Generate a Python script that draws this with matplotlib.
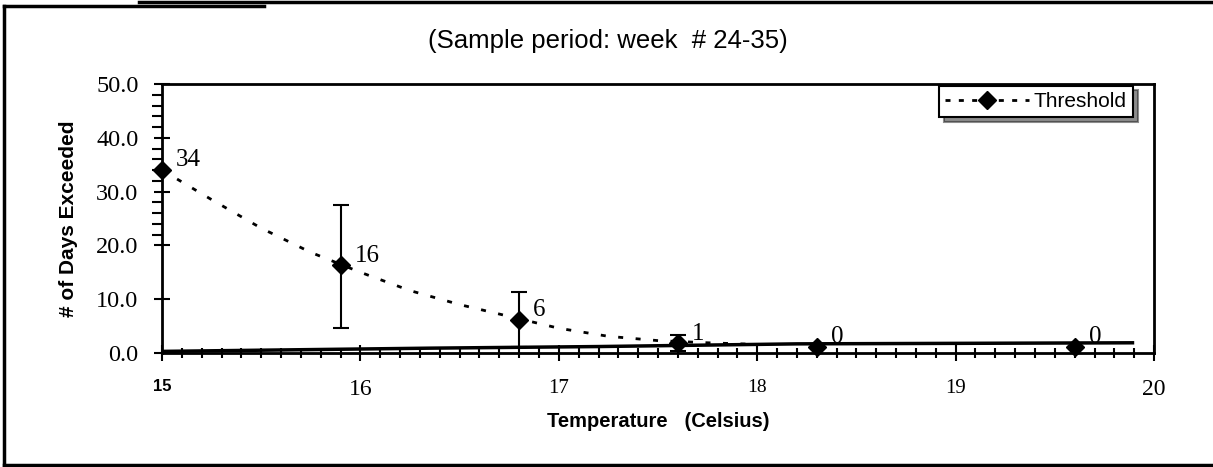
import matplotlib
matplotlib.use('Agg')
import matplotlib.pyplot as plt
import numpy as np
from matplotlib.lines import Line2D
from matplotlib.ticker import MultipleLocator, FixedLocator

# Data
temp = [15.0, 15.9, 16.8, 17.6, 18.3, 19.6]
days = [34.0, 16.3, 6.1, 1.8, 1.2, 1.2]
day_labels = ['34', '16', '6', '1', '0', '0']

# error bars (only three points have them)
bar_temp = [15.9, 16.8, 17.6]
bar_mid = [16.3, 6.1, 1.8]
bar_low = [4.6, 1.2, 0.4]
bar_high = [27.5, 11.3, 3.4]

# dotted trend curve
trend_x = [15.0, 15.25, 15.5, 15.75, 16.0, 16.25, 16.5, 16.75, 17.0, 17.25, 17.5, 17.75, 18.0]
trend_y = [34.0, 28.5, 23.2, 18.7, 15.0, 11.6, 9.0, 6.8, 4.6, 3.1, 2.3, 1.9, 1.6]

# thick line running along the bottom
base_x = [15.0, 16.35, 17.2, 18.2, 19.9]
base_y = [0.3, 0.9, 1.2, 1.7, 1.9]

xticks = [15, 16, 17, 18, 19, 20]
xtick_sizes = [12, 17, 15, 14, 15, 17]

serif = 'Liberation Serif'
sans = 'Liberation Sans'

fig = plt.figure(figsize=(12.13, 4.67), dpi=100)
ax = fig.add_axes([0.1336, 0.2441, 0.8178, 0.576])

ax.plot(base_x, base_y, color='black', lw=2.5, solid_capstyle='butt', zorder=3)
ax.plot(trend_x, trend_y, color='black', lw=2, linestyle=(0, (1.8, 4.5)), zorder=3)

yerr = [np.array(bar_mid) - np.array(bar_low), np.array(bar_high) - np.array(bar_mid)]
ax.errorbar(bar_temp, bar_mid, yerr=yerr, fmt='none', ecolor='black',
            elinewidth=1.5, capsize=5.5, capthick=1.5, zorder=4)

ax.plot(temp, days, linestyle='none', marker='D', markersize=9,
        color='black', clip_on=False, zorder=5)

for t, d, lab in zip(temp, days, day_labels):
    ax.annotate(lab, (t, d), xytext=(10, 7), textcoords='offset points',
                ha='left', va='center', fontsize=18, family=serif)

ax.set_xlim(15, 20)
ax.set_ylim(0, 50)

ax.set_xticks(xticks)
ax.set_xticklabels([str(x) for x in xticks])
for lab, s in zip(ax.get_xticklabels(), xtick_sizes):
    lab.set_fontsize(s)
    if s == 12:
        lab.set_family(sans)
        lab.set_fontweight('bold')
    else:
        lab.set_family(serif)
ax.xaxis.set_minor_locator(MultipleLocator(0.1))

ax.set_yticks([0, 10, 20, 30, 40, 50])
ax.set_yticklabels(['0.0', '10.0', '20.0', '30.0', '40.0', '50.0'],
                   fontsize=17.5, family=serif)
ax.yaxis.set_minor_locator(FixedLocator(np.arange(22, 50, 2)))

ax.tick_params(axis='x', which='major', direction='inout', length=12, width=1.5, pad=13)
ax.tick_params(axis='x', which='minor', direction='inout', length=7, width=1.5)
ax.tick_params(axis='y', which='major', direction='inout', length=12, width=1.5, pad=11)
ax.tick_params(axis='y', which='minor', direction='out', length=7, width=1.5)

for sp in ax.spines.values():
    sp.set_linewidth(2)
    sp.set_color('black')

ax.set_xlabel('Temperature   (Celsius)', fontsize=14.5, fontweight='bold',
              family=sans, labelpad=8)
ax.set_ylabel('# of Days Exceeded', fontsize=15, fontweight='bold',
              family=sans, labelpad=13)

fig.text(0.501, 0.912, '(Sample period: week  # 24-35)', ha='center', va='center',
         fontsize=18.5, family=sans)

handle = Line2D([], [], color='black', lw=2, linestyle=(0, (1.8, 3)),
                marker='D', markersize=9)
leg = ax.legend([handle], ['Threshold'], loc='upper right',
                bbox_to_anchor=(0.979, 0.993), borderaxespad=0,
                prop={'family': sans, 'size': 15},
                handlelength=4, handletextpad=0.25, borderpad=0.3,
                fancybox=False, edgecolor='black', framealpha=1,
                shadow={'ox': 3.5, 'oy': -3, 'color': '0.1'})
leg.get_frame().set_linewidth(1.5)

# outer frame of the scanned figure
fig.add_artist(Line2D([0.0035, 0.0035], [0.002, 0.987], color='black', lw=2.5))
fig.add_artist(Line2D([0.0035, 1.0], [0.004, 0.004], color='black', lw=2.5))
fig.add_artist(Line2D([0.0035, 0.218], [0.987, 0.987], color='black', lw=2.5))
fig.add_artist(Line2D([0.115, 1.0], [0.996, 0.996], color='black', lw=2.5))

fig.savefig('out.png', dpi=100)
